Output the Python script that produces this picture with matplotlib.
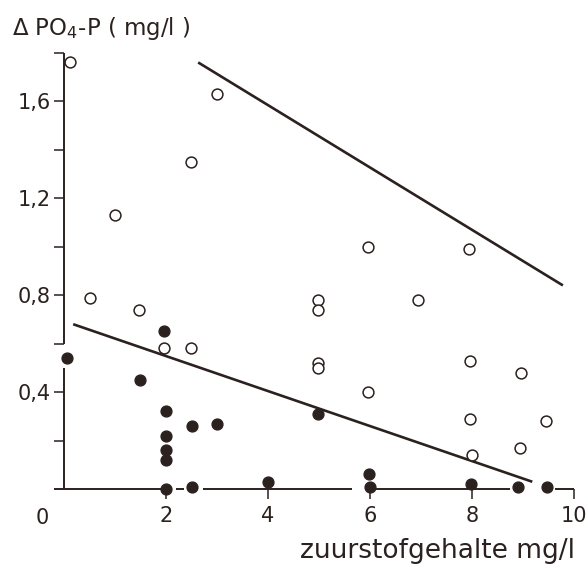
import numpy as np
import matplotlib.pyplot as plt

# open circles
open_x = [0.12, 3.0, 2.49, 1.0, 0.51, 1.47, 1.96, 2.49, 5.96, 7.94, 6.94, 4.98, 4.98,
          4.98, 4.98, 7.96, 8.96, 5.96, 7.96, 9.45, 8.94, 8.0]
open_y = [1.76, 1.63, 1.35, 1.13, 0.79, 0.74, 0.58, 0.58, 1.00, 0.99, 0.78, 0.78, 0.74,
          0.52, 0.50, 0.53, 0.48, 0.40, 0.29, 0.28, 0.17, 0.14]

# filled dots
fill_x = [1.96, 0.05, 1.49, 2.0, 2.0, 2.0, 2.0, 2.0, 2.5, 3.0, 2.5, 4.0, 4.98,
          5.98, 6.0, 7.98, 8.9, 9.47]
fill_y = [0.65, 0.54, 0.45, 0.32, 0.22, 0.16, 0.12, 0.0, 0.26, 0.27, 0.01, 0.03, 0.31,
          0.06, 0.01, 0.02, 0.01, 0.01]

# fitted lines
upper_x = [2.63, 9.78]
upper_y = [1.76, 0.84]
lower_x = [0.18, 9.18]
lower_y = [0.68, 0.03]

x_ticks = [2, 4, 6, 8, 10]
y_ticks = [0.2, 0.4, 0.6, 0.8, 1.0, 1.2, 1.4, 1.6, 1.8]
y_labels = ["", "0,4", "", "0,8", "", "1,2", "", "1,6", ""]

# hand-drawn axis lines are broken where dots sit on them
y_axis_pieces = [(0, 0.5), (0.6, 1.8)]
x_axis_pieces = [(-0.2, 1.9), (2.2, 2.35), (2.73, 5.65), (6.1, 8.75), (9.62, 10)]

ink = "#2b211e"
plt.rcParams["font.family"] = ["DejaVu Sans"]

fig = plt.figure(figsize=(5.88, 5.68), dpi=100)
ax = fig.add_axes([0.0828, 0.1305, 0.937, 0.798])

ax.plot(upper_x, upper_y, color=ink, lw=1.9, solid_capstyle="butt")
ax.plot(lower_x, lower_y, color=ink, lw=1.9, solid_capstyle="butt")
ax.plot(open_x, open_y, "o", ms=7.8, mfc="white", mec=ink, mew=1.1, clip_on=False)
ax.plot(fill_x, fill_y, "o", ms=7.8, color=ink, clip_on=False, zorder=4)

for lo, hi in y_axis_pieces:
    ax.vlines(0, lo, hi, color=ink, lw=1.4, clip_on=False)
for lo, hi in x_axis_pieces:
    ax.hlines(0, lo, hi, color=ink, lw=1.4, clip_on=False)

ax.set_xlim(-0.3, 10.5)
ax.set_ylim(-0.02, 1.85)

for s in ax.spines.values():
    s.set_visible(False)

ax.set_xticks(x_ticks)
ax.set_xticklabels([str(v) for v in x_ticks])
ax.set_yticks(y_ticks)
ax.set_yticklabels(y_labels)
ax.tick_params(axis="both", direction="out", length=7.5, width=1.1, color=ink,
               labelsize=15, labelcolor=ink)
ax.tick_params(axis="y", pad=2)
ax.tick_params(axis="x", pad=5)
# ticks hang from the axis lines at x=0 / y=0
ax.spines["left"].set_position(("data", 0))
ax.spines["bottom"].set_position(("data", 0))

ax.text(-0.43, -0.12, "0", ha="center", va="center", fontsize=15, color=ink,
        transform=ax.transData)

fig.text(0.02, 0.95, r"$\Delta$ PO$_4$-P ( mg/l )", fontsize=16.5, color=ink,
         ha="left", va="center")
fig.text(0.978, 0.03, "zuurstofgehalte mg/l", fontsize=19, color=ink,
         ha="right", va="center")

fig.savefig("out.png", dpi=100, facecolor="white")
